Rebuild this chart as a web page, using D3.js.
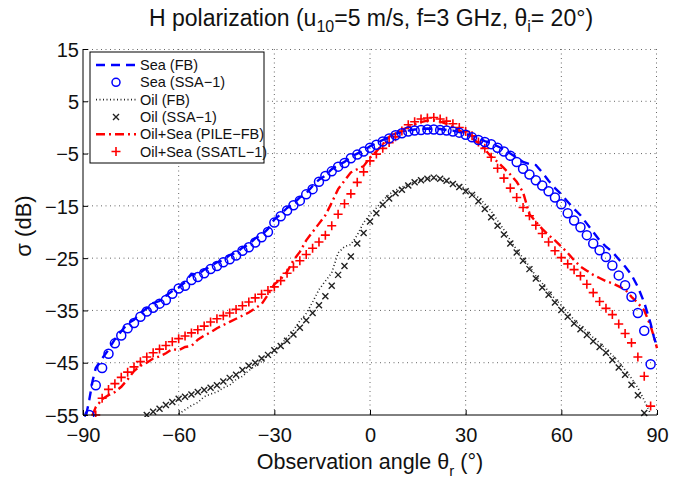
<!DOCTYPE html>
<html>
<head>
<meta charset="utf-8">
<script src="https://cdn.jsdelivr.net/npm/d3@7"></script>
<style>
  body { margin: 0; background: #fff; }
  svg { font-family: "Liberation Sans", Arial, Helvetica, sans-serif; }
</style>
</head>
<body>
<svg id="chart"></svg>
<script>
// tick labels
const xTicks = [-90, -60, -30, 0, 30, 60, 90];
const yTicks = [15, 5, -5, -15, -25, -35, -45, -55];

// Sea (SSA-1): angles -88..88 step 2
const seaSsaAngles = d3.range(-88, 89, 2);
const seaSsa = [-55.0, -49.3, -46.0, -43.3, -41.3, -39.8, -38.4, -37.4, -36.2, -35.2,
  -34.5, -33.7, -33.0, -31.8, -30.8, -30.3, -29.2, -28.6, -27.9, -27.1,
  -26.5, -25.8, -25.2, -24.5, -23.6, -22.9, -22.0, -21.0, -20.0, -18.2,
  -17.0, -15.9, -14.9, -14.0, -12.8, -11.8, -10.4, -9.3, -8.4, -7.5,
  -6.8, -5.9, -5.2, -4.6, -3.9, -3.3, -2.7, -2.1, -1.5, -1.1,
  -0.8, -0.6, -0.5, -0.4, -0.4, -0.5, -0.6, -0.8, -1.0, -1.4,
  -1.9, -2.4, -2.8, -3.2, -3.9, -4.6, -5.4, -6.6, -7.9, -9.0,
  -10.1, -11.1, -12.2, -13.4, -14.7, -16.4, -17.8, -19.1, -20.6, -22.2,
  -23.5, -24.8, -26.4, -28.3, -30.2, -32.4, -35.5, -38.9, -45.3];

// Sea (FB)
const seaFbAngles = [-89, -88, -87, -86, -84, -82, -80, -78, -76, -74, -72, -70, -68, -66, -64, -62, -60,
  -58, -56, -54, -52, -50, -48, -46, -44, -42, -40, -38, -36, -34, -32, -30, -28, -26, -24, -22, -20,
  -18, -16, -14, -12, -10, -8, -6, -4, -2, 0, 2, 4, 6, 8, 10, 12, 14, 16, 18, 20, 22, 24, 26, 28, 30,
  32, 34, 36, 38, 40, 42, 44, 46, 48, 50, 52, 54, 56, 58, 60, 62, 64, 66, 68, 70, 72, 74, 76, 78, 80,
  82, 84, 86, 88, 89, 90];
const seaFb = [-55.0, -52.0, -48.5, -46.0, -44.2, -42.5, -40.5, -39.0, -37.5, -36.8, -35.5, -34.6, -33.6, -33.2, -32.2, -31.3, -30.6,
  -29.6, -28.0, -28.2, -27.2, -26.6, -25.8, -25.4, -24.4, -24.0, -23.0, -22.4, -21.2, -20.6, -19.4, -17.6, -16.6, -15.4, -14.6, -13.4, -12.6,
  -11.2, -10.0, -9.2, -8.0, -7.2, -6.6, -5.6, -5.0, -4.4, -3.6, -3.0, -2.4, -1.8, -1.2, -0.9, -0.6, -0.4, -0.3, -0.2, -0.3, -0.3, -0.5, -0.6, -0.9, -1.2,
  -1.6, -2.1, -2.6, -3.0, -3.6, -4.2, -5.0, -5.8, -6.6, -7.0, -7.2, -8.6, -10.2, -11.6, -12.8, -14.2, -15.6, -16.8, -18.4, -20.0, -21.6, -22.8, -23.8, -25.2, -26.6,
  -28.2, -30.5, -33.5, -37.5, -40.0, -42.0];

// Oil (SSA-1): angles -70..86 step 2
const oilSsaAngles = d3.range(-70, 87, 2);
const oilSsa = [-55.0, -54.4, -53.8, -53.1, -52.5, -51.9, -51.5, -51.1, -50.6, -50.2,
  -49.8, -49.3, -48.6, -47.9, -47.3, -46.4, -45.6, -45.0, -44.2, -43.5,
  -42.6, -41.8, -40.8, -39.6, -38.3, -36.9, -35.5, -34.0, -32.3, -30.3,
  -28.2, -26.5, -24.7, -22.2, -20.2, -18.0, -16.4, -14.8, -13.6, -12.6,
  -11.9, -11.1, -10.5, -10.1, -9.8, -9.6, -9.8, -10.2, -10.8, -11.4,
  -12.2, -12.9, -14.1, -15.6, -17.2, -18.8, -20.5, -22.2, -23.9, -25.5,
  -27.1, -28.9, -30.6, -32.0, -33.5, -34.9, -36.2, -37.5, -38.6, -39.7,
  -40.9, -42.0, -43.1, -44.5, -45.9, -47.3, -49.2, -51.2, -54.6];

// Oil (FB): angles -60..88 step 2
const oilFbAngles = d3.range(-60, 89, 2);
const oilFb = [-54.8, -54.0, -53.2, -52.6, -51.5, -51.0, -50.6, -49.8, -49.3, -48.2,
  -47.6, -46.5, -45.6, -44.8, -43.6, -43.0, -41.5, -40.2, -38.8, -37.0,
  -35.6, -33.4, -31.0, -29.4, -27.8, -24.0, -22.8, -22.4, -20.6, -18.2,
  -16.6, -15.4, -14.0, -12.8, -12.0, -11.4, -10.9, -10.4, -10.0, -9.8,
  -9.8, -10.0, -10.4, -10.6, -11.0, -11.8, -12.6, -13.4, -14.6, -16.0,
  -17.8, -19.6, -21.6, -23.4, -25.0, -26.6, -28.4, -29.8, -31.4, -32.8,
  -34.0, -35.4, -36.8, -38.0, -39.0, -40.2, -41.2, -42.4, -43.6, -44.8,
  -46.4, -48.0, -49.8, -52.2, -54.8];

// Oil+Sea (SSATL-1): angles -86..88 step 2
const mixSsaAngles = d3.range(-86, 89, 2);
const mixSsa = [-55.0, -51.8, -50.1, -49.0, -47.8, -46.8, -45.8, -44.8, -43.9, -43.1,
  -42.4, -41.7, -41.0, -40.4, -39.9, -39.3, -38.7, -38.0, -37.2, -36.6,
  -36.0, -35.5, -34.8, -34.1, -33.4, -32.6, -31.9, -31.2, -30.5, -29.3,
  -27.9, -26.7, -25.5, -24.3, -23.1, -21.9, -20.6, -18.8, -16.6, -14.6,
  -12.7, -10.5, -8.5, -6.4, -5.1, -4.0, -2.9, -1.8, -0.7, 0.5,
  1.1, 1.6, 1.8, 1.9, 1.6, 1.2, 0.7, 0.0, -0.8, -1.6,
  -2.8, -4.0, -5.7, -7.8, -9.7, -11.6, -13.4, -15.3, -16.9, -18.7,
  -20.3, -21.9, -23.6, -24.9, -26.1, -27.2, -28.4, -30.0, -31.6, -33.3,
  -34.6, -35.8, -37.6, -39.4, -41.2, -43.9, -47.6, -53.3];

// Oil+Sea (PILE-FB)
const mixFbAngles = [-87, -86, -84, -82, -80, -78, -76, -74, -72, -70, -68, -66, -64, -62, -60, -58, -56,
  -54, -52, -50, -48, -46, -44, -42, -40, -38, -36, -34, -32, -30, -28, -26, -24, -22, -20, -18, -16,
  -14, -12, -10, -8, -6, -4, -2, 0, 2, 4, 6, 8, 10, 12, 14, 16, 18, 20, 22, 24, 26, 28, 30, 32, 34, 36,
  38, 40, 42, 44, 46, 48, 50, 52, 54, 56, 58, 60, 62, 64, 66, 68, 70, 72, 74, 76, 78, 80, 82, 84, 86,
  88, 89, 90];
const mixFb = [-55.0, -53.5, -52.0, -51.2, -50.6, -49.6, -48.2, -46.6, -45.6, -45.0, -44.2, -43.8, -43.2, -42.4, -42.6, -42.0, -41.8,
  -40.6, -39.8, -39.2, -38.4, -37.8, -37.2, -36.6, -36.0, -35.4, -34.6, -33.8, -32.0, -30.0, -29.0, -27.6, -25.4, -23.8, -21.6, -20.0, -18.4,
  -16.8, -14.4, -11.8, -10.2, -8.6, -8.0, -7.4, -5.8, -4.6, -3.2, -1.8, -1.0, -0.4, 0.0, 0.6, 1.0, 1.3, 1.4, 1.1, 0.7, 0.1, -0.6, -1.2, -2.0, -3.0, -4.2,
  -5.6, -6.6, -7.8, -9.0, -10.4, -12.4, -16.6, -18.0, -19.4, -20.6, -21.6, -22.8, -24.0, -25.4, -26.6, -27.4, -28.2, -28.8, -29.4, -29.8, -30.4, -31.0, -32.4, -33.6, -35.0,
  -38.0, -40.0, -42.2];

const W = 684, H = 478;
const margin = {top: 49, right: 27, bottom: 63, left: 83};
const width = W - margin.left - margin.right;
const height = H - margin.top - margin.bottom;

const svg = d3.select("#chart").attr("width", W).attr("height", H);
const g = svg.append("g").attr("transform", `translate(${margin.left},${margin.top})`);

const x = d3.scaleLinear().domain([-90, 90]).range([0, width]);
const y = d3.scaleLinear().domain([-55, 15]).range([height, 0]);

// grid
g.append("g").selectAll("line").data(xTicks.slice(1, -1)).join("line")
  .attr("x1", d => x(d)).attr("x2", d => x(d)).attr("y1", 0).attr("y2", height)
  .attr("stroke", "#666").attr("stroke-width", 1).attr("stroke-dasharray", "1,3.5");
g.append("g").selectAll("line").data(yTicks.slice(1, -1)).join("line")
  .attr("y1", d => y(d)).attr("y2", d => y(d)).attr("x1", 0).attr("x2", width)
  .attr("stroke", "#666").attr("stroke-width", 1).attr("stroke-dasharray", "1,3.5");
// top / right dotted border like matlab grid
g.append("line").attr("x1", 0).attr("x2", width).attr("y1", 0.5).attr("y2", 0.5)
  .attr("stroke", "#666").attr("stroke-dasharray", "1,3.5");
g.append("line").attr("x1", width - 0.5).attr("x2", width - 0.5).attr("y1", 0).attr("y2", height)
  .attr("stroke", "#666").attr("stroke-dasharray", "1,3.5");

svg.append("defs").append("clipPath").attr("id", "clip")
  .append("rect").attr("x", 0).attr("y", -2).attr("width", width + 2).attr("height", height + 4);
const plot = g.append("g").attr("clip-path", "url(#clip)");

const pairs = (a, v) => a.map((d, i) => [d, v[i]]);
const line = d3.line().x(d => x(d[0])).y(d => y(d[1]));

// lines
plot.append("path").datum(pairs(oilFbAngles, oilFb)).attr("d", line)
  .attr("fill", "none").attr("stroke", "#222").attr("stroke-width", 1.6)
  .attr("stroke-dasharray", "1,2.5");
plot.append("path").datum(pairs(mixFbAngles, mixFb)).attr("d", line)
  .attr("fill", "none").attr("stroke", "#ff0000").attr("stroke-width", 2.4)
  .attr("stroke-dasharray", "9,4,2,4");
plot.append("path").datum(pairs(seaFbAngles, seaFb)).attr("d", line)
  .attr("fill", "none").attr("stroke", "#0000ff").attr("stroke-width", 2.4)
  .attr("stroke-dasharray", "9,6");

// markers
plot.append("g").selectAll("path").data(pairs(oilSsaAngles, oilSsa)).join("path")
  .attr("transform", d => `translate(${x(d[0])},${y(d[1])})`)
  .attr("d", "M-3,-3L3,3M-3,3L3,-3")
  .attr("stroke", "#222").attr("stroke-width", 1.4);
plot.append("g").selectAll("path").data(pairs(mixSsaAngles, mixSsa)).join("path")
  .attr("transform", d => `translate(${x(d[0])},${y(d[1])})`)
  .attr("d", "M-4.5,0L4.5,0M0,-4.5L0,4.5")
  .attr("stroke", "#ff0000").attr("stroke-width", 1.6);
plot.append("g").selectAll("circle").data(pairs(seaSsaAngles, seaSsa)).join("circle")
  .attr("cx", d => x(d[0])).attr("cy", d => y(d[1])).attr("r", 4.5)
  .attr("fill", "none").attr("stroke", "#0000ff").attr("stroke-width", 1.5);

// axes (ticks inward)
g.append("line").attr("x1", 0).attr("x2", width).attr("y1", height).attr("y2", height).attr("stroke", "#000");
g.append("line").attr("x1", 0).attr("x2", 0).attr("y1", 0).attr("y2", height).attr("stroke", "#000");

const fmt = d => d3.format("")(d).replace("-", "\u2212");
const xAxis = g.append("g").attr("transform", `translate(0,${height})`)
  .call(d3.axisBottom(x).tickValues(xTicks).tickSize(-5).tickPadding(13).tickFormat(fmt));
const yAxis = g.append("g")
  .call(d3.axisLeft(y).tickValues(yTicks).tickSize(-5).tickPadding(4).tickFormat(fmt));
[xAxis, yAxis].forEach(a => {
  a.select(".domain").remove();
  a.selectAll("text").attr("font-size", 20).attr("fill", "#111")
    .attr("font-family", "'Liberation Sans', Arial, sans-serif");
  a.selectAll("line").attr("stroke", "#000");
});
yAxis.selectAll("text").attr("dy", "0.36em");

// title
const title = svg.append("text").attr("x", 371).attr("y", 26)
  .attr("text-anchor", "middle").attr("font-size", 23).attr("fill", "#111");
title.append("tspan").text("H polarization (u");
title.append("tspan").attr("font-size", 16).attr("dy", 6).text("10");
title.append("tspan").attr("dy", -6).text("=5 m/s, f=3 GHz, \u03b8");
title.append("tspan").attr("font-size", 16).attr("dy", 6).text("i");
title.append("tspan").attr("dy", -6).text("= 20\u00b0)");

// x label
const xl = svg.append("text").attr("x", 370).attr("y", 469)
  .attr("text-anchor", "middle").attr("font-size", 21.5).attr("fill", "#111");
xl.append("tspan").text("Observation angle \u03b8");
xl.append("tspan").attr("font-size", 15).attr("dy", 7).text("r");
xl.append("tspan").attr("dy", -7).text(" (\u00b0)");

// y label
svg.append("text").attr("transform", "translate(31,226) rotate(-90)")
  .attr("text-anchor", "middle").attr("font-size", 22).attr("fill", "#111").text("\u03c3 (dB)");

// legend
const legendItems = [
  {label: "Sea (FB)", kind: "line", color: "#0000ff", dash: "9,6", sw: 2.4},
  {label: "Sea (SSA\u22121)", kind: "circle", color: "#0000ff"},
  {label: "Oil (FB)", kind: "line", color: "#222", dash: "1,2.5", sw: 1.6},
  {label: "Oil (SSA\u22121)", kind: "x", color: "#222"},
  {label: "Oil+Sea (PILE\u2212FB)", kind: "line", color: "#ff0000", dash: "9,4,2,4", sw: 2.4},
  {label: "Oil+Sea (SSATL\u22121)", kind: "plus", color: "#ff0000"}
];
const lg = svg.append("g").attr("transform", "translate(90,52)");
lg.append("rect").attr("width", 174).attr("height", 111)
  .attr("fill", "#fff").attr("stroke", "#000").attr("stroke-width", 1);
const rows = lg.selectAll("g.item").data(legendItems).join("g").attr("class", "item")
  .attr("transform", (d, i) => `translate(0,${13 + i * 17.3})`);
rows.append("text").attr("x", 50).attr("y", 0).attr("dy", "0.35em")
  .attr("font-size", 14.5).attr("fill", "#111").text(d => d.label);
rows.filter(d => d.kind === "line").append("line")
  .attr("x1", 6).attr("x2", 46).attr("y1", 0).attr("y2", 0)
  .attr("stroke", d => d.color).attr("stroke-width", d => d.sw).attr("stroke-dasharray", d => d.dash);
rows.filter(d => d.kind === "circle").append("circle")
  .attr("cx", 26).attr("cy", 0).attr("r", 4).attr("fill", "none")
  .attr("stroke", d => d.color).attr("stroke-width", 1.5);
rows.filter(d => d.kind === "x").append("path").attr("transform", "translate(26,0)")
  .attr("d", "M-3,-3L3,3M-3,3L3,-3").attr("stroke", d => d.color).attr("stroke-width", 1.4);
rows.filter(d => d.kind === "plus").append("path").attr("transform", "translate(26,0)")
  .attr("d", "M-4.5,0L4.5,0M0,-4.5L0,4.5").attr("stroke", d => d.color).attr("stroke-width", 1.6);
</script>
</body>
</html>
